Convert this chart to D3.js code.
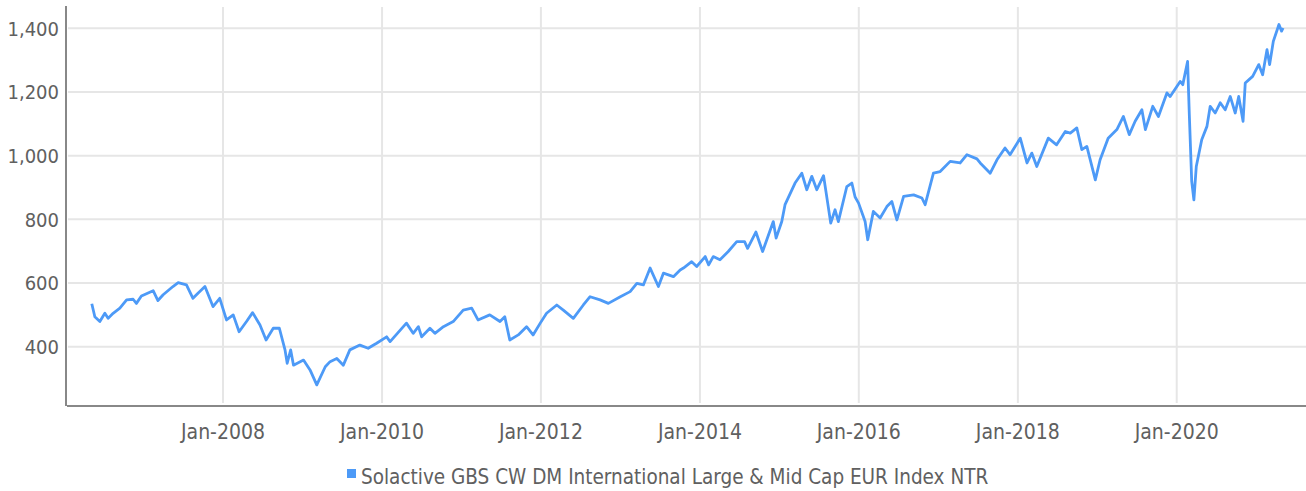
<!DOCTYPE html>
<html>
<head>
<meta charset="utf-8">
<script src="https://cdn.jsdelivr.net/npm/d3@7"></script>
<style>
  body { margin: 0; background: #fff; }
  text { font-family: "DejaVu Sans Condensed", "Liberation Sans Narrow", "Roboto", sans-serif; fill: #606060; }
</style>
</head>
<body>
<svg id="chart" width="1306" height="491"></svg>
<script>
// data
const dates = [
  "2006-05-08","2006-05-22","2006-06-14","2006-07-07","2006-07-22","2006-08-14","2006-09-14","2006-10-15","2006-11-14","2006-11-29","2006-12-22",
  "2007-02-14","2007-03-08","2007-04-01","2007-05-16","2007-06-09","2007-07-17","2007-08-16","2007-09-08","2007-10-10","2007-11-16","2007-12-17",
  "2008-01-17","2008-02-17","2008-03-15","2008-04-18","2008-05-16","2008-06-19","2008-07-17","2008-08-19","2008-09-16","2008-10-12","2008-10-22","2008-11-07","2008-11-20",
  "2009-01-05","2009-02-04","2009-03-07","2009-04-15","2009-05-07","2009-06-07","2009-07-07","2009-08-06","2009-09-21","2009-10-29","2009-12-07",
  "2010-01-22","2010-02-07","2010-04-23","2010-05-24","2010-06-17","2010-07-02","2010-08-09","2010-09-01","2010-10-10","2010-11-24",
  "2011-01-09","2011-02-17","2011-03-18","2011-05-11","2011-06-27","2011-07-19","2011-08-11","2011-09-19","2011-10-27","2011-11-26","2011-12-29",
  "2012-01-27","2012-03-14","2012-04-13","2012-05-29","2012-07-14","2012-08-14","2012-09-29","2012-11-06","2012-12-31",
  "2013-02-14","2013-03-17","2013-04-16","2013-05-17","2013-06-24","2013-07-17","2013-09-01","2013-10-02","2013-10-17","2013-11-24","2013-12-17",
  "2014-01-25","2014-02-10","2014-03-03","2014-04-03","2014-05-11","2014-06-19","2014-07-25","2014-08-08","2014-09-15","2014-10-16","2014-12-04","2014-12-17",
  "2015-01-12","2015-01-27","2015-03-14","2015-04-14","2015-05-07","2015-05-30","2015-06-22","2015-07-23","2015-08-04","2015-08-25","2015-09-14","2015-09-29","2015-11-07","2015-11-30","2015-12-15","2015-12-31",
  "2016-01-30","2016-02-11","2016-03-08","2016-04-08","2016-05-09","2016-06-01","2016-06-24","2016-07-25","2016-09-09","2016-10-17","2016-11-01","2016-12-09",
  "2017-01-09","2017-02-24","2017-04-11","2017-05-12","2017-06-27","2017-07-12","2017-08-27","2017-09-27","2017-11-03","2017-11-26",
  "2018-01-12","2018-02-12","2018-03-06","2018-03-29","2018-05-21","2018-06-28","2018-08-07","2018-08-30","2018-09-29","2018-10-22","2018-11-14","2018-12-23",
  "2019-01-14","2019-02-20","2019-04-01","2019-05-01","2019-05-28","2019-06-24","2019-07-25","2019-08-10","2019-09-13","2019-10-09","2019-11-17","2019-12-02",
  "2020-01-17","2020-01-29","2020-02-20","2020-02-28","2020-03-10","2020-03-20","2020-03-31","2020-04-25","2020-05-19","2020-06-03","2020-06-26","2020-07-19","2020-08-11","2020-09-03","2020-09-26","2020-10-12","2020-11-01","2020-11-11","2020-12-15",
  "2021-01-12","2021-01-30","2021-02-19","2021-03-03","2021-03-20","2021-04-15","2021-04-27","2021-05-04"
];
const values = [
  535,494,479,505,489,505,521,547,549,536,559,
  576,545,563,589,601,594,552,568,589,526,552,
  484,500,447,479,507,468,421,458,458,390,348,390,342,
  358,327,280,337,353,363,342,390,405,395,411,
  431,416,474,442,463,431,458,442,463,479,
  515,521,484,500,479,494,421,437,463,437,474,
  505,531,515,489,531,557,547,536,557,
  573,599,594,647,589,631,620,641,647,667,652,
  683,657,683,673,699,730,730,709,760,699,793,741,
  793,846,914,945,893,935,893,937,883,788,830,793,903,914,870,851,
  793,736,825,804,840,856,798,872,877,867,846,945,
  950,982,977,1003,990,977,945,987,1024,1003,
  1055,977,1008,966,1055,1034,1076,1071,1087,1019,1029,924,
  987,1055,1082,1123,1066,1108,1144,1082,1155,1123,1197,1186,
  1233,1223,1296,1129,919,861,966,1050,1092,1155,1134,1166,1144,1186,1134,1186,1108,1228,1249,
  1286,1254,1333,1286,1359,1412,1391,1401
];
const yTicks = [400, 600, 800, 1000, 1200, 1400];
const xTicks = ["2008-01-01","2010-01-01","2012-01-01","2014-01-01","2016-01-01","2018-01-01","2020-01-01"];
const seriesName = "Solactive GBS CW DM International Large & Mid Cap EUR Index NTR";

const parse = d3.timeParse("%Y-%m-%d");
const data = dates.map((d, i) => ({ date: parse(d), value: values[i] }));

const svg = d3.select("#chart");
const plotLeft = 66, plotRight = 1306, plotTop = 6, plotBottom = 406;

const x = d3.scaleTime()
  .domain([parse("2008-01-01"), parse("2020-01-01")])
  .range([223, 1176.7]);
const y = d3.scaleLinear()
  .domain([400, 1400])
  .range([346.7, 28.3]);

// gridlines
svg.append("g").selectAll("line")
  .data(yTicks).join("line")
  .attr("x1", plotLeft + 2).attr("x2", plotRight)
  .attr("y1", d => y(d)).attr("y2", d => y(d))
  .attr("stroke", "#e6e6e6").attr("stroke-width", 2);

svg.append("g").selectAll("line")
  .data(xTicks.map(parse)).join("line")
  .attr("x1", d => x(d)).attr("x2", d => x(d))
  .attr("y1", plotTop + 1).attr("y2", plotBottom - 3)
  .attr("stroke", "#e6e6e6").attr("stroke-width", 2);

// axis lines
svg.append("line").attr("x1", plotLeft).attr("x2", plotLeft).attr("y1", plotTop).attr("y2", plotBottom)
  .attr("stroke", "#888").attr("stroke-width", 2);
svg.append("line").attr("x1", plotLeft + 1).attr("x2", plotRight).attr("y1", plotBottom).attr("y2", plotBottom)
  .attr("stroke", "#888").attr("stroke-width", 2);

// tick labels
svg.append("g").selectAll("text")
  .data(yTicks).join("text")
  .attr("x", 59).attr("y", d => y(d))
  .attr("dy", "0.36em")
  .attr("text-anchor", "end")
  .style("font-size", "20px")
  .text(d3.format(","));

svg.append("g").selectAll("text")
  .data(xTicks.map(parse)).join("text")
  .attr("x", d => x(d)).attr("y", 439)
  .attr("text-anchor", "middle")
  .style("font-size", "21px")
  .text(d3.timeFormat("Jan-%Y"));

// line
const line = d3.line().x(d => x(d.date)).y(d => y(d.value));
svg.append("path").datum(data)
  .attr("d", line)
  .attr("fill", "none")
  .attr("stroke", "#4d9af7")
  .attr("stroke-width", 2.8)
  .attr("stroke-linejoin", "round");

// legend
svg.append("rect").attr("x", 347).attr("y", 469).attr("width", 9).attr("height", 9).attr("fill", "#4d9af7");
svg.append("text").attr("x", 361).attr("y", 484)
  .style("font-size", "20.5px")
  .text(seriesName);
</script>
</body>
</html>
